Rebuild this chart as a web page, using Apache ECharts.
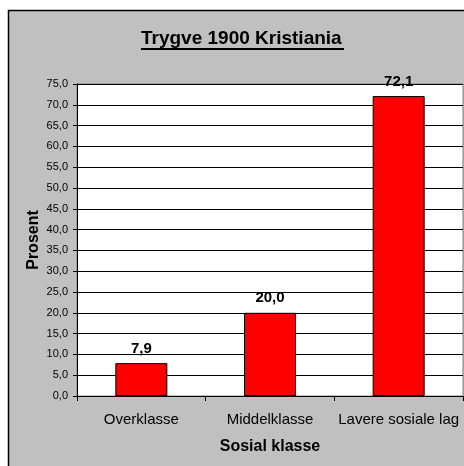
<!DOCTYPE html>
<html>
<head>
<meta charset="utf-8">
<script src="https://cdn.jsdelivr.net/npm/echarts@6/dist/echarts.min.js"></script>
<style>
  html, body { margin: 0; padding: 0; background: #fff; }
  #chart { width: 464px; height: 466px; }
</style>
</head>
<body>
<div id="chart"></div>
<script>
// data
const categories = ['Overklasse', 'Middelklasse', 'Lavere sosiale lag'];
const values = [7.9, 20.0, 72.1];

const fmt = (v) => v.toFixed(1).replace('.', ',');

const chart = echarts.init(document.getElementById('chart'));
chart.setOption({
    backgroundColor: '#fff',
    animation: false,
    title: {
        text: 'Trygve 1900 Kristiania',
        left: 136,
        top: 24,
        textStyle: {
            fontFamily: 'Liberation Sans',
            fontSize: 19,
            fontWeight: 'bold',
            color: '#000'
        }
    },
    graphic: [
        {
            type: 'rect',
            z: -10,
            silent: true,
            shape: { x: 8.5, y: 10.5, width: 480, height: 480 },
            style: { fill: '#c0c0c0', stroke: '#000', lineWidth: 1.5 }
        },
        {
            type: 'line',
            silent: true,
            shape: { x1: 141, y1: 49, x2: 344, y2: 49 },
            style: { stroke: '#000', lineWidth: 2 }
        }
    ],
    grid: {
        left: 77,
        top: 84,
        right: 1,
        bottom: 70,
        show: true,
        backgroundColor: '#fff',
        borderColor: '#808080',
        borderWidth: 1
    },
    xAxis: {
        type: 'category',
        data: categories,
        name: 'Sosial klasse',
        nameLocation: 'middle',
        nameGap: 43,
        nameMoveOverlap: false,
        nameTextStyle: {
            fontFamily: 'Liberation Sans',
            fontSize: 16,
            fontWeight: 'bold',
            color: '#000'
        },
        axisLine: { lineStyle: { color: '#000', width: 1 } },
        axisTick: { show: true, alignWithLabel: false, length: 5, lineStyle: { color: '#000' } },
        axisLabel: {
            margin: 16,
            fontFamily: 'Liberation Sans',
            fontSize: 15,
            color: '#000',
            interval: 0
        }
    },
    yAxis: {
        type: 'value',
        min: 0,
        max: 75,
        interval: 5,
        name: 'Prosent',
        nameLocation: 'middle',
        nameGap: 35,
        nameMoveOverlap: false,
        nameTextStyle: {
            fontFamily: 'Liberation Sans',
            fontSize: 16,
            fontWeight: 'bold',
            color: '#000'
        },
        axisLine: { show: true, lineStyle: { color: '#000', width: 1 } },
        axisTick: { show: true, length: 4, lineStyle: { color: '#000' } },
        axisLabel: {
            margin: 9,
            fontFamily: 'Liberation Sans',
            fontSize: 11,
            color: '#000',
            formatter: (v) => fmt(v)
        },
        splitLine: { show: true, lineStyle: { color: '#000', width: 1 } }
    },
    series: [
        {
            type: 'bar',
            data: values,
            barWidth: 52,
            itemStyle: { color: '#ff0000', borderColor: '#000', borderWidth: 1 },
            label: {
                show: true,
                position: 'top',
                distance: 7,
                fontFamily: 'Liberation Sans',
                fontSize: 15,
                fontWeight: 'bold',
                color: '#000',
                formatter: (p) => fmt(p.value)
            }
        }
    ]
});
</script>
</body>
</html>
